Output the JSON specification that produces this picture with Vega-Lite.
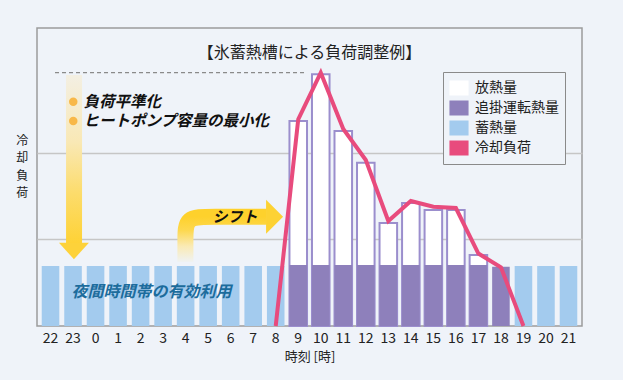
{
  "$schema": "https://vega.github.io/schema/vega-lite/v6.json",
  "width": 545,
  "height": 298,
  "autosize": "none",
  "padding": {"left": 37, "top": 28, "right": 41, "bottom": 54},
  "background": "#eff3f9",
  "config": {
    "font": "Noto Sans CJK JP",
    "view": {"stroke": "#9c9c9c", "strokeWidth": 1.5}
  },
  "title": {
    "text": "【氷蓄熱槽による負荷調整例】",
    "fontSize": 16,
    "fontWeight": "normal",
    "color": "#222222",
    "anchor": "middle",
    "baseline": "middle",
    "offset": -40.5
  },
  "datasets": {
    "release": [
      {"hour": "9", "value": 236.4, "series": "放熱量"},
      {"hour": "10", "value": 290.3, "series": "放熱量"},
      {"hour": "11", "value": 224.9, "series": "放熱量"},
      {"hour": "12", "value": 188.4, "series": "放熱量"},
      {"hour": "13", "value": 118.8, "series": "放熱量"},
      {"hour": "14", "value": 141.9, "series": "放熱量"},
      {"hour": "15", "value": 133.8, "series": "放熱量"},
      {"hour": "16", "value": 133.8, "series": "放熱量"},
      {"hour": "17", "value": 81.9, "series": "放熱量"}
    ],
    "chase": [
      {"hour": "9", "value": 70.4, "series": "追掛運転熱量"},
      {"hour": "10", "value": 70.4, "series": "追掛運転熱量"},
      {"hour": "11", "value": 70.4, "series": "追掛運転熱量"},
      {"hour": "12", "value": 70.4, "series": "追掛運転熱量"},
      {"hour": "13", "value": 70.4, "series": "追掛運転熱量"},
      {"hour": "14", "value": 70.4, "series": "追掛運転熱量"},
      {"hour": "15", "value": 70.4, "series": "追掛運転熱量"},
      {"hour": "16", "value": 70.4, "series": "追掛運転熱量"},
      {"hour": "17", "value": 70.4, "series": "追掛運転熱量"},
      {"hour": "18", "value": 68.4, "series": "追掛運転熱量"}
    ],
    "storage": [
      {"hour": "22", "value": 69.2, "series": "蓄熱量"},
      {"hour": "23", "value": 69.2, "series": "蓄熱量"},
      {"hour": "0", "value": 69.2, "series": "蓄熱量"},
      {"hour": "1", "value": 69.2, "series": "蓄熱量"},
      {"hour": "2", "value": 69.2, "series": "蓄熱量"},
      {"hour": "3", "value": 69.2, "series": "蓄熱量"},
      {"hour": "4", "value": 69.2, "series": "蓄熱量"},
      {"hour": "5", "value": 69.2, "series": "蓄熱量"},
      {"hour": "6", "value": 69.2, "series": "蓄熱量"},
      {"hour": "7", "value": 69.2, "series": "蓄熱量"},
      {"hour": "8", "value": 69.2, "series": "蓄熱量"},
      {"hour": "19", "value": 69.2, "series": "蓄熱量"},
      {"hour": "20", "value": 69.2, "series": "蓄熱量"},
      {"hour": "21", "value": 69.2, "series": "蓄熱量"}
    ],
    "load": [
      {"hour": "8", "value": 0, "series": "冷却負荷"},
      {"hour": "9", "value": 238.4, "series": "冷却負荷"},
      {"hour": "10", "value": 292.2, "series": "冷却負荷"},
      {"hour": "11", "value": 227.2, "series": "冷却負荷"},
      {"hour": "12", "value": 191.5, "series": "冷却負荷"},
      {"hour": "13", "value": 121.1, "series": "冷却負荷"},
      {"hour": "14", "value": 144.2, "series": "冷却負荷"},
      {"hour": "15", "value": 137.6, "series": "冷却負荷"},
      {"hour": "16", "value": 136.1, "series": "冷却負荷"},
      {"hour": "17", "value": 83.6, "series": "冷却負荷"},
      {"hour": "18", "value": 67.7, "series": "冷却負荷"},
      {"hour": "19", "value": 0, "series": "冷却負荷"}
    ],
    "shift": [
      {"k": 0, "sx": 5.99, "sy": 73.8},
      {"k": 1, "sx": 5.99, "sy": 100},
      {"k": 2, "sx": 5.99, "sy": 126},
      {"k": 3, "sx": 7.1, "sy": 126},
      {"k": 4, "sx": 9.6, "sy": 126}
    ]
  },
  "layer": [
    {
      "encoding": {
        "x": {
          "field": "hour",
          "type": "ordinal",
          "sort": null,
          "scale": {
            "type": "band",
            "domain": ["22","23","0","1","2","3","4","5","6","7","8","9","10","11","12","13","14","15","16","17","18","19","20","21"],
            "paddingInner": 0.22,
            "paddingOuter": 0.21
          },
          "axis": {
            "title": "時刻 [時]",
            "domain": false,
            "ticks": false,
            "grid": false,
            "labelAngle": 0,
            "labelFontSize": 14,
            "labelColor": "#222222",
            "labelPadding": 5,
            "titleFontSize": 13,
            "titleFontWeight": "normal",
            "titleColor": "#222222",
            "titleY": 30.7,
            "titleBaseline": "middle"
          }
        },
        "y": {
          "field": "value",
          "type": "quantitative",
          "scale": {"domain": [0, 343.7], "nice": false, "zero": true},
          "axis": {
            "title": ["冷","却","負","荷"],
            "titleAngle": 0,
            "titleX": -15.3,
            "titleY": 112.5,
            "titleBaseline": "middle",
            "titleAlign": "center",
            "titleFontSize": 12,
            "titleFontWeight": "normal",
            "titleColor": "#222222",
            "titleLineHeight": 17.4,
            "labels": false,
            "ticks": false,
            "domain": false,
            "values": [100, 200],
            "grid": true,
            "gridColor": "#c6c6c6",
            "gridWidth": 1.5
          }
        },
        "color": {
          "field": "series",
          "type": "nominal",
          "scale": {
            "domain": ["放熱量", "追掛運転熱量", "蓄熱量", "冷却負荷"],
            "range": ["#ffffff", "#8e80bb", "#a3cbee", "#e84b7d"]
          },
          "legend": {
            "title": null,
            "orient": "none",
            "legendX": 406,
            "legendY": 44,
            "symbolType": "M-1,-0.78H1V0.78H-1Z",
            "symbolSize": 310,
            "labelFontSize": 14,
            "labelColor": "#222222",
            "labelOffset": 6,
            "padding": 6,
            "rowPadding": 0,
            "strokeColor": "#8a8a8a",
            "fillColor": "#eff3f9",
            "encode": {
              "legend": {"update": {"strokeWidth": {"value": 1.5}}},
              "symbols": {
                "update": {
                  "shape": {"signal": "datum.value === '冷却負荷' ? 'M-1,0H1' : datum.value === '放熱量' ? 'M-0.89,-0.67H0.89V0.67H-0.89Z' : 'M-1,-0.78H1V0.78H-1Z'"},
                  "fill": {"signal": "datum.value === '放熱量' ? '#ffffff' : datum.value === '追掛運転熱量' ? '#8e80bb' : datum.value === '蓄熱量' ? '#a3cbee' : 'transparent'"},
                  "stroke": {"signal": "datum.value === '放熱量' ? '#9b8ecd' : datum.value === '冷却負荷' ? '#e84b7d' : 'transparent'"},
                  "strokeWidth": {"signal": "datum.value === '冷却負荷' ? 3.5 : 2"},
                  "opacity": {"value": 1},
                  "fillOpacity": {"value": 1},
                  "strokeOpacity": {"value": 1}
                }
              }
            }
          }
        }
      },
      "layer": [
        {
          "data": {"name": "release"},
          "mark": {"type": "bar", "stroke": "#9b8ecd", "strokeWidth": 2, "opacity": 1}
        },
        {
          "data": {"name": "chase"},
          "mark": {"type": "bar", "opacity": 1}
        },
        {
          "data": {"name": "storage"},
          "mark": {"type": "bar", "opacity": 1}
        },
        {
          "data": {"name": "load"},
          "mark": {"type": "line", "strokeWidth": 4, "strokeJoin": "miter", "opacity": 1}
        }
      ]
    },
    {
      "data": {"values": [{}]},
      "layer": [
        {
          "mark": {"type": "rule", "stroke": "#8a8a8a", "strokeWidth": 1.2, "strokeDash": [4, 3]},
          "encoding": {
            "x": {"datum": 0.2, "type": "quantitative", "scale": {"domain": [-0.6, 23.6], "nice": false, "zero": false}, "axis": null},
            "x2": {"datum": 11.35},
            "y": {"datum": 292.2, "type": "quantitative", "scale": {"domain": [0, 343.7], "nice": false}, "axis": null}
          }
        },
        {
          "mark": {
            "type": "rect",
            "fill": {
              "gradient": "linear", "x1": 0, "y1": 0, "x2": 0, "y2": 1,
              "stops": [
                {"offset": 0, "color": "#f3efe3"},
                {"offset": 0.4, "color": "#f9e8b5"},
                {"offset": 0.7, "color": "#fcdc6c"},
                {"offset": 1, "color": "#fed236"}
              ]
            }
          },
          "encoding": {
            "x": {"datum": 0.69, "type": "quantitative", "scale": {"domain": [-0.6, 23.6], "nice": false, "zero": false}, "axis": null},
            "x2": {"datum": 1.4},
            "y": {"datum": 289.5, "type": "quantitative", "scale": {"domain": [0, 343.7], "nice": false}, "axis": null},
            "y2": {"datum": 95.7}
          }
        },
        {
          "mark": {"type": "point", "shape": "M-1,-0.55L1,-0.55L0,0.55Z", "size": 900, "filled": true, "fill": "#fdd23a", "opacity": 1, "strokeWidth": 0},
          "encoding": {
            "x": {"datum": 1.04, "type": "quantitative", "scale": {"domain": [-0.6, 23.6], "nice": false, "zero": false}, "axis": null},
            "y": {"datum": 86.5, "type": "quantitative", "scale": {"domain": [0, 343.7], "nice": false}, "axis": null}
          }
        },
        {
          "data": {"name": "shift"},
          "mark": {
            "type": "line",
            "interpolate": "basis",
            "strokeWidth": 16,
            "strokeCap": "butt",
            "opacity": 1,
            "stroke": {
              "gradient": "linear", "x1": 0, "y1": 1, "x2": 0, "y2": 0,
              "stops": [
                {"offset": 0, "color": "#eff2f3"},
                {"offset": 0.35, "color": "#faeab4"},
                {"offset": 0.7, "color": "#fdd84f"},
                {"offset": 1, "color": "#fed12c"}
              ]
            }
          },
          "encoding": {
            "x": {"field": "sx", "type": "quantitative", "scale": {"domain": [-0.6, 23.6], "nice": false, "zero": false}, "axis": null},
            "y": {"field": "sy", "type": "quantitative", "scale": {"domain": [0, 343.7], "nice": false}, "axis": null},
            "order": {"field": "k"}
          }
        },
        {
          "mark": {"type": "point", "shape": "M-0.5,-1L0.5,0L-0.5,1Z", "size": 1156, "filled": true, "fill": "#fdd233", "opacity": 1, "strokeWidth": 0},
          "encoding": {
            "x": {"datum": 9.95, "type": "quantitative", "scale": {"domain": [-0.6, 23.6], "nice": false, "zero": false}, "axis": null},
            "y": {"datum": 126, "type": "quantitative", "scale": {"domain": [0, 343.7], "nice": false}, "axis": null}
          }
        },
        {
          "mark": {"type": "text", "text": "シフト", "fontSize": 15, "fontWeight": "bold", "fontStyle": "italic", "fill": "#111111", "align": "center", "baseline": "middle"},
          "encoding": {
            "x": {"datum": 8.19, "type": "quantitative", "scale": {"domain": [-0.6, 23.6], "nice": false, "zero": false}, "axis": null},
            "y": {"datum": 126, "type": "quantitative", "scale": {"domain": [0, 343.7], "nice": false}, "axis": null}
          }
        },
        {
          "mark": {"type": "point", "shape": "circle", "size": 72, "filled": true, "fill": "#f8b849", "opacity": 1, "strokeWidth": 0},
          "encoding": {
            "x": {"datum": 1.01, "type": "quantitative", "scale": {"domain": [-0.6, 23.6], "nice": false, "zero": false}, "axis": null},
            "y": {"datum": 258.7, "type": "quantitative", "scale": {"domain": [0, 343.7], "nice": false}, "axis": null}
          }
        },
        {
          "mark": {"type": "point", "shape": "circle", "size": 72, "filled": true, "fill": "#f8b849", "opacity": 1, "strokeWidth": 0},
          "encoding": {
            "x": {"datum": 1.01, "type": "quantitative", "scale": {"domain": [-0.6, 23.6], "nice": false, "zero": false}, "axis": null},
            "y": {"datum": 236.5, "type": "quantitative", "scale": {"domain": [0, 343.7], "nice": false}, "axis": null}
          }
        },
        {
          "mark": {"type": "text", "text": "負荷平準化", "fontSize": 15.5, "fontWeight": "bold", "fontStyle": "italic", "fill": "#111111", "align": "left", "baseline": "middle"},
          "encoding": {
            "x": {"datum": 1.46, "type": "quantitative", "scale": {"domain": [-0.6, 23.6], "nice": false, "zero": false}, "axis": null},
            "y": {"datum": 258.7, "type": "quantitative", "scale": {"domain": [0, 343.7], "nice": false}, "axis": null}
          }
        },
        {
          "mark": {"type": "text", "text": "ヒートポンプ容量の最小化", "fontSize": 15.5, "fontWeight": "bold", "fontStyle": "italic", "fill": "#111111", "align": "left", "baseline": "middle"},
          "encoding": {
            "x": {"datum": 1.46, "type": "quantitative", "scale": {"domain": [-0.6, 23.6], "nice": false, "zero": false}, "axis": null},
            "y": {"datum": 236.5, "type": "quantitative", "scale": {"domain": [0, 343.7], "nice": false}, "axis": null}
          }
        },
        {
          "mark": {"type": "text", "text": "夜間時間帯の有効利用", "fontSize": 16, "fontWeight": "bold", "fontStyle": "italic", "fill": "#1c6c9c", "align": "center", "baseline": "middle"},
          "encoding": {
            "x": {"datum": 4.48, "type": "quantitative", "scale": {"domain": [-0.6, 23.6], "nice": false, "zero": false}, "axis": null},
            "y": {"datum": 39.6, "type": "quantitative", "scale": {"domain": [0, 343.7], "nice": false}, "axis": null}
          }
        }
      ]
    }
  ],
  "resolve": {"scale": {"x": "independent", "y": "independent"}}
}
